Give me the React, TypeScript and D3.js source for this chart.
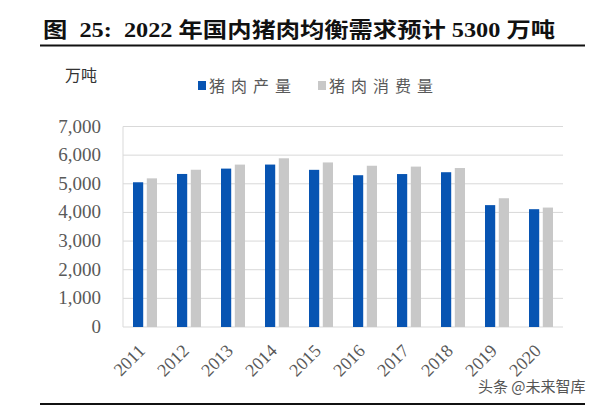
import React from "react";
import * as d3 from "d3";

const years = ["2011", "2012", "2013", "2014", "2015", "2016", "2017", "2018", "2019", "2020"];
const production = [5053, 5343, 5530, 5671, 5487, 5299, 5340, 5404, 4255, 4113];
const consumption = [5190, 5490, 5670, 5890, 5745, 5630, 5600, 5550, 4495, 4170];
const seriesNames = ["猪肉产量", "猪肉消费量"];
const seriesColors = ["#0754b2", "#c8c8c8"];
const yTicks = [0, 1000, 2000, 3000, 4000, 5000, 6000, 7000];

const W = 600;
const H = 406;
const plot = { left: 123, right: 563, top: 126.5, bottom: 327 };

const serif = "'Liberation Serif', 'Times New Roman', 'Noto Sans CJK SC', serif";
const cjk = "'Noto Sans CJK SC', sans-serif";

export default function App() {
  const x = d3.scaleBand().domain(years).range([plot.left, plot.right]).padding(0);
  const inner = d3.scaleBand().domain(seriesNames).range([-12, 12]).paddingInner(0.26);
  const y = d3.scaleLinear().domain([0, 7000]).range([plot.bottom, plot.top]);
  const fmt = d3.format(",d");
  const data = [production, consumption];

  return (
    <svg
      width={W}
      height={H}
      style={{ position: "absolute", left: 0, top: 0, background: "#fff" }}
    >
      {/* title */}
      <text
        x={43}
        y={37}
        fontFamily={serif}
        fontWeight="bold"
        fontSize={21}
        fill="#111"
        textLength={512}
        lengthAdjust="spacingAndGlyphs"
        style={{ whiteSpace: "pre" }}
      >
        {"图  25:  2022 年国内猪肉均衡需求预计 5300 万吨"}
      </text>
      <line x1={40} x2={585} y1={45.5} y2={45.5} stroke="#111" strokeWidth={2} />

      {/* unit */}
      <text x={65} y={81} fontFamily={cjk} fontSize={16} fill="#333">
        万吨
      </text>

      {/* legend */}
      {seriesNames.map((name, i) => {
        const lx = i === 0 ? 198 : 318;
        return (
          <g key={name}>
            <rect x={lx} y={81} width={8} height={9} fill={seriesColors[i]} />
            <text
              x={lx + 11}
              y={91.5}
              fontFamily={cjk}
              fontSize={16}
              letterSpacing={6}
              fill="#595959"
            >
              {name}
            </text>
          </g>
        );
      })}

      {/* grid */}
      {yTicks.map((t) => (
        <g key={t}>
          <line
            x1={plot.left}
            x2={plot.right}
            y1={y(t)}
            y2={y(t)}
            stroke="#d9d9d9"
            strokeWidth={1}
          />
          <text
            x={101}
            y={y(t) + 6}
            textAnchor="end"
            fontFamily={serif}
            fontSize={19}
            fill="#595959"
          >
            {fmt(t)}
          </text>
        </g>
      ))}
      <line
        x1={plot.left}
        x2={plot.left}
        y1={plot.top}
        y2={plot.bottom}
        stroke="#d9d9d9"
        strokeWidth={1}
      />

      {/* bars */}
      {years.map((yr, i) => {
        const cx = (x(yr) as number) + x.bandwidth() / 2;
        return (
          <g key={yr}>
            {seriesNames.map((s, j) => (
              <rect
                key={s}
                x={cx + (inner(s) as number)}
                y={y(data[j][i])}
                width={inner.bandwidth()}
                height={plot.bottom - y(data[j][i])}
                fill={seriesColors[j]}
              />
            ))}
            <text
              transform={`translate(${cx + 1},${plot.bottom + 25}) rotate(-45)`}
              textAnchor="end"
              fontFamily={serif}
              fontSize={18}
              fill="#595959"
            >
              {yr}
            </text>
          </g>
        );
      })}

      {/* watermark */}
      <text x={478} y={392} fontFamily={cjk} fontSize={15} fill="#555">
        头条 @未来智库
      </text>

      <line x1={40} x2={585} y1={404} y2={404} stroke="#111" strokeWidth={2} />
    </svg>
  );
}
